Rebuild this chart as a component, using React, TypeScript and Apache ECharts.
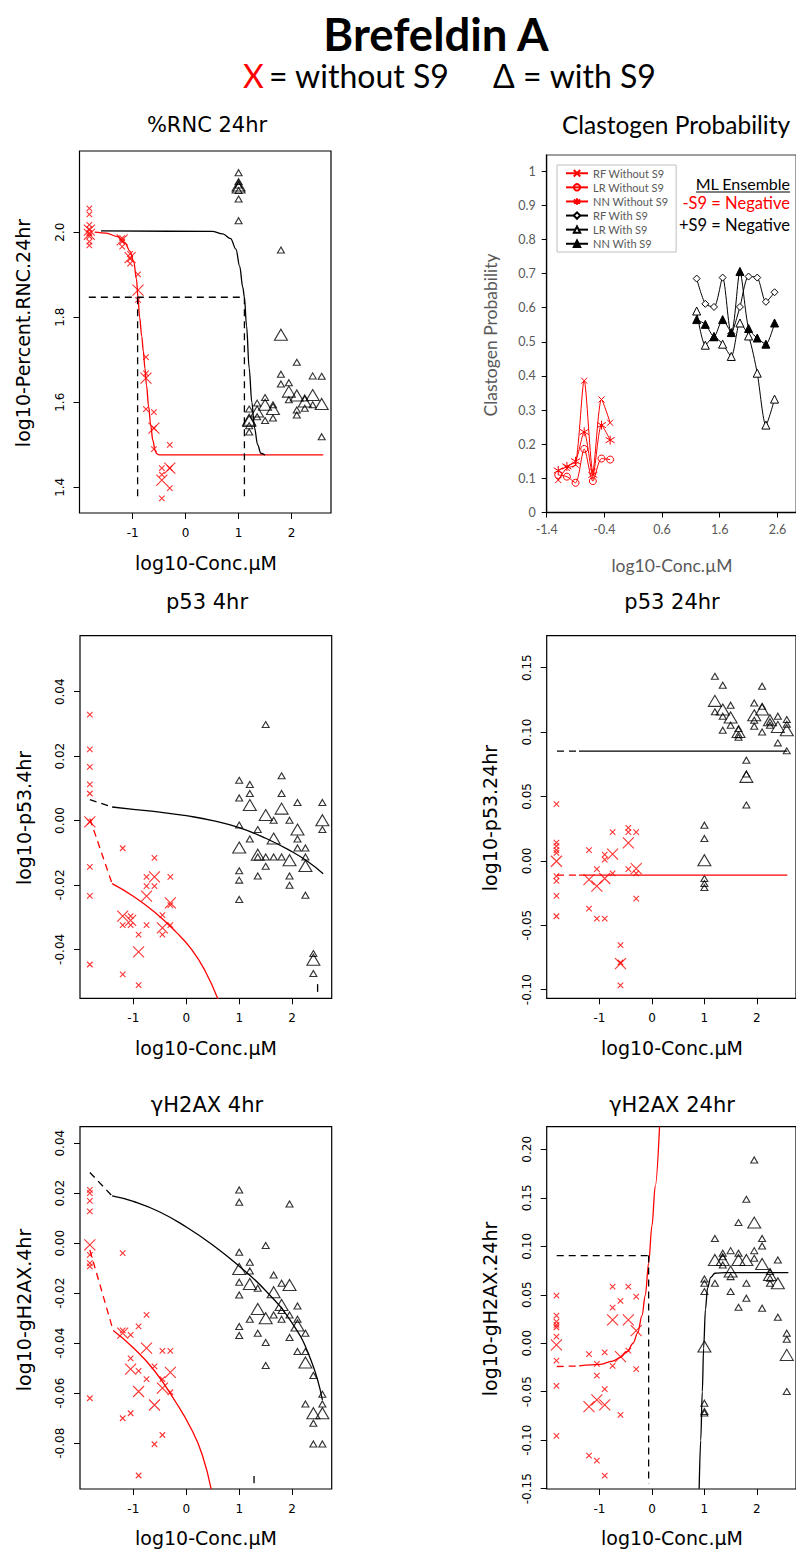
import React, { useEffect, useRef } from 'react';
import * as echarts from 'echarts';

// ---------- concentrations (log10 µM) ----------
const concRed = [-1.82, -1.2, -1.05, -0.9, -0.75, -0.6, -0.45, -0.3];
const concBlack = [1.0, 1.2, 1.35, 1.5, 1.65, 1.8, 1.95, 2.1, 2.25, 2.4, 2.57];
const xTicksR = [-1, 0, 1, 2];

// ---------- %RNC 24hr ----------
const rncRedRep = [[2.056, 2.042, 2.017, 2.007, 1.998, 1.99, 1.978, 1.969], [1.986, 1.978, 1.966], [1.949, 1.937, 1.926], [1.901, 1.841], [1.706, 1.668, 1.584], [1.577, 1.539, 1.49], [1.445, 1.43, 1.374], [1.5, 1.445, 1.398]];
const rncRedMean = [[2.005, 1.995], [1.982], [1.94], [1.864], [1.657], [1.539], [1.417], [1.445]];
const rncBlackRep = [[2.14, 2.119, 2.111, 2.098, 2.078, 2.027], [1.584, 1.53, 1.545], [1.598, 1.566], [1.611, 1.557], [1.594, 1.563], [1.958, 1.666, 1.643], [1.646, 1.606], [1.694, 1.582, 1.57], [1.61, 1.586], [1.662, 1.594], [1.661, 1.519]];
const rncBlackMean = [[2.105, 2.11], [1.559, 1.556], [1.578], [1.594], [1.584], [1.759], [1.625], [1.616], [1.602], [1.617], [1.596]];
const rncRedCurveX = [-1.72, -1.5, -1.3, -1.15, -1.05, -0.98, -0.93, -0.9, -0.87, -0.83, -0.8, -0.77, -0.74, -0.7, -0.66, -0.62, -0.58, -0.55, -0.5, 2.6];
const rncRedCurveY = [2.0, 1.998, 1.99, 1.975, 1.955, 1.93, 1.89, 1.845, 1.8, 1.755, 1.72, 1.68, 1.64, 1.59, 1.545, 1.51, 1.488, 1.479, 1.476, 1.476];
const rncBlackCurveX = [-1.6, 0.5, 0.7, 0.85, 0.95, 1.02, 1.08, 1.11, 1.15, 1.2, 1.25, 1.3, 1.36, 1.42, 1.5];
const rncBlackCurveY = [2.003, 2.002, 1.996, 1.985, 1.96, 1.92, 1.87, 1.847, 1.78, 1.68, 1.6, 1.54, 1.5, 1.48, 1.476];
const rncRefX = [-1.83, -0.908, 1.11];
const rncRefY = [1.847, 1.37];
const rncYTicks = [1.4, 1.6, 1.8, 2.0];

// ---------- Clastogen probability ----------
const clastRedX = [-1.2, -1.05, -0.9, -0.75, -0.6, -0.45, -0.3];
const rfWithout = [0.095, 0.13, 0.14, 0.386, 0.12, 0.331, 0.263];
const lrWithout = [0.11, 0.105, 0.087, 0.186, 0.092, 0.158, 0.155];
const nnWithout = [0.123, 0.135, 0.15, 0.236, 0.11, 0.256, 0.212];
const clastBlackX = [1.2, 1.35, 1.5, 1.65, 1.8, 1.95, 2.1, 2.25, 2.4, 2.55];
const rfWith = [0.685, 0.611, 0.602, 0.688, 0.524, 0.602, 0.691, 0.688, 0.617, 0.645];
const lrWith = [0.59, 0.49, 0.515, 0.493, 0.457, 0.555, 0.517, 0.408, 0.256, 0.332];
const nnWith = [0.565, 0.551, 0.515, 0.565, 0.527, 0.706, 0.539, 0.511, 0.493, 0.555];
const clastXTicks = [-1.4, -0.4, 0.6, 1.6, 2.6];
const clastYTicks = [0, 0.1, 0.2, 0.3, 0.4, 0.5, 0.6, 0.7, 0.8, 0.9, 1];
const legendNames = ['RF Without S9', 'LR Without S9', 'NN Without S9', 'RF With S9', 'LR With S9', 'NN With S9'];

// ---------- p53 4hr ----------
const p4RedRep = [[0.0329, 0.0221, 0.0167, 0.0112, 0.0084, -0.0004, -0.0144, -0.0234, -0.0447], [-0.0086, -0.0325, -0.0478], [-0.0297, -0.0325], [-0.0354, -0.0511], [-0.0175, -0.0204, -0.0325], [-0.0116, -0.0204], [-0.0294, -0.0354], [-0.0175, -0.0325, -0.0263]];
const p4RedMean = [[-0.0004], [-0.0297], [-0.031], [-0.0408], [-0.0235], [-0.0175], [-0.0333], [-0.0256]];
const p4BlackRep = [[0.0125, 0.007, -0.0014, -0.0156, -0.0185, -0.0245], [0.0112, 0.0084, -0.0057], [-0.0028, -0.0113, -0.0172], [0.0298, -0.0113, -0.0142], [0.0001, -0.0113], [0.0139, 0.0084, -0.0113], [0.0001, -0.0172, -0.0201], [0.0056, -0.0057, -0.0085], [-0.0085, -0.0113, -0.0232], [-0.0413, -0.0475], [0.0056, -0.0028]];
const p4BlackMean = [[-0.0084], [0.0048], [-0.0106], [0.0017], [-0.0056], [0.0037], [-0.0123], [-0.0028], [-0.0141], [-0.0432], [0.0001]];
const p4BlackDashX = [-1.82, -1.4];
const p4BlackDashY = [0.0065, 0.0042];
const p4BlackCurveX = [-1.4, -1.0, -0.5, 0, 0.5, 1.0, 1.5, 2.0, 2.3, 2.585];
const p4BlackCurveY = [0.0042, 0.0035, 0.0026, 0.0015, 0.0, -0.0022, -0.0055, -0.0097, -0.0128, -0.0165];
const p4RedDashX = [-1.82, -1.4];
const p4RedDashY = [0.0006, -0.0196];
const p4RedCurveX = [-1.4, -1.0, -0.6, -0.2, 0.1, 0.35, 0.6];
const p4RedCurveY = [-0.0196, -0.0235, -0.0284, -0.0345, -0.04, -0.0465, -0.0555];
const p4StubX = [2.48, 2.48];
const p4StubY = [-0.0508, -0.0532];
const p4YTicks = [-0.04, -0.02, 0, 0.02, 0.04];

// ---------- p53 24hr ----------
const p24RedRep = [[0.044, 0.0142, 0.0114, 0.0083, 0.0062, -0.0119, -0.0155, -0.0272, -0.043], [0.0083, -0.037], [-0.0065, -0.0448], [0.0049, 0.001, -0.0448], [0.0223, -0.0098], [-0.0655, -0.0966, -0.0789], [0.0256, 0.0223, -0.0065], [0.0223, -0.0098, -0.0293]];
const p24RedMean = [[-0.0003], [-0.0145], [-0.0197], [-0.0137], [0.0052], [-0.0798], [0.014], [-0.006]];
const p24BlackRep = [[0.0277, 0.0174, -0.0137, -0.0176, -0.0207], [0.1433, 0.1157], [0.1364, 0.1123, 0.1014], [0.1208, 0.1053], [0.1027, 0.098, 0.096], [0.0781, 0.0675, 0.0433], [0.1226, 0.1092, 0.1045], [0.1356, 0.12, 0.1001], [0.1053, 0.108], [0.1123, 0.0916], [0.1097, 0.106, 0.0854]];
const p24BlackMean = [[0.0005], [0.1242], [0.1175], [0.1113], [0.1], [0.0652], [0.113], [0.1175], [0.1092], [0.104], [0.1014]];
const p24LineX = [-1.81, -1.39, 2.58];
const p24RedLevel = -0.0111;
const p24BlackLevel = 0.0852;
const p24YTicks = [-0.1, -0.05, 0, 0.05, 0.1, 0.15];

// ---------- gH2AX 4hr ----------
const g4RedRep = [[0.0213, 0.02, 0.0169, 0.0127, -0.0047, -0.008, -0.0093, -0.062], [-0.004, -0.0349, -0.07], [-0.0367, -0.0461, -0.068], [-0.0333, -0.0511, -0.0929], [-0.0287, -0.0544], [-0.0493, -0.0804], [-0.0431, -0.0544, -0.0767], [-0.0431, -0.0596]];
const g4RedMean = [[-0.0007], [-0.036], [-0.0504], [-0.0593], [-0.042], [-0.0647], [-0.058], [-0.0517]];
const g4BlackRep = [[0.0213, 0.0164, -0.0036, -0.0156, -0.0207, -0.0333, -0.0369], [-0.0076, -0.0111, -0.0304], [-0.018, -0.036], [-0.0009, -0.0397, -0.0489], [-0.0127, -0.0287], [-0.016, -0.0269, -0.0304], [0.0157, -0.0287, -0.0377], [-0.0251, -0.0304, -0.0433], [-0.036, -0.0433, -0.0643], [-0.0529, -0.072, -0.0803], [-0.0604, -0.0643, -0.0803]];
const g4BlackMean = [[-0.0103], [-0.0163], [-0.0263], [-0.03], [-0.0196], [-0.0247], [-0.0167], [-0.0329], [-0.0477], [-0.068], [-0.068]];
const g4RedDashX = [-1.82, -1.38];
const g4RedDashY = [-0.0027, -0.0349];
const g4RedCurveX = [-1.38, -1.0, -0.6, -0.2, 0.1, 0.3, 0.47];
const g4RedCurveY = [-0.0349, -0.0418, -0.051, -0.0635, -0.0745, -0.0845, -0.0983];
const g4BlackDashX = [-1.82, -1.4];
const g4BlackDashY = [0.0283, 0.0189];
const g4BlackCurveX = [-1.4, -1.0, -0.5, 0, 0.5, 1.0, 1.5, 2.0, 2.35, 2.57];
const g4BlackCurveY = [0.0189, 0.0167, 0.0125, 0.0065, -0.0007, -0.0092, -0.019, -0.032, -0.0465, -0.0627];
const g4StubX = [1.28, 1.28];
const g4StubY = [-0.0931, -0.096];
const g4YTicks = [-0.08, -0.06, -0.04, -0.02, 0, 0.02, 0.04];

// ---------- gH2AX 24hr ----------
const g24RedRep = [[0.0491, 0.0285, 0.0223, 0.0189, 0.0165, 0.0069, -0.0179, -0.044, -0.0955], [-0.0113, -0.1158], [-0.0213, -0.0333, -0.121], [-0.0093, -0.0474, -0.1364], [0.0584, 0.0368, -0.0234], [0.0436, -0.0739], [0.0584, -0.0076], [0.0481, -0.0268]];
const g24RedMean = [[-0.0017], [-0.0653], [-0.0584], [-0.0636], [0.0241], [-0.0137], [0.0241], [0.0131]];
const g24BlackRep = [[0.0663, 0.0618, 0.0533, -0.0618, -0.0704, -0.072], [0.108, 0.0618], [0.0928, 0.0893, 0.0807], [0.0955, 0.0687, 0.0533], [0.1244, 0.0928, 0.0371], [0.1484, 0.0618, 0.0464], [0.189, 0.0955, 0.0876], [0.108, 0.1003, 0.0361], [0.0739, 0.067, 0.0618], [0.0859, 0.0268], [0.0103, 0.0041, -0.0498]];
const g24BlackMean = [[-0.0034], [0.0859], [0.0859], [0.0739], [0.0859], [0.0859], [0.1244], [0.0818], [0.0704], [0.0618], [-0.012]];
const g24RedDashX = [-1.815, -1.386];
const g24RedDashY = [-0.024, -0.0234];
const g24RedCurveX = [-1.386, -1.0, -0.75, -0.6, -0.47, -0.36, -0.27, -0.19, -0.126, -0.063, 0, 0.063, 0.145];
const g24RedCurveY = [-0.0234, -0.0218, -0.0185, -0.0145, -0.0085, 0.0, 0.011, 0.0285, 0.0495, 0.0825, 0.121, 0.162, 0.2233];
const g24BlackCurveX = [0.9, 0.93, 0.96, 0.985, 1.02, 1.06, 1.12, 1.2, 1.4, 2.6];
const g24BlackCurveY = [-0.15, -0.1, -0.05, -0.005, 0.035, 0.057, 0.068, 0.0722, 0.0728, 0.0728];
const g24RefX = [-1.815, -0.063];
const g24RefY = [0.0904, -0.145];
const g24YTicks = [-0.15, -0.1, -0.05, 0, 0.05, 0.1, 0.15, 0.2];

// ---------- helpers ----------
const RFONT = 'DejaVu Sans';
const XFONT = 'Lato';
const RED = '#ff0000';
const SYM_X = 'path://M0,0L10,10M0,10L10,0';
const SYM_AST = 'path://M5,0L5,10M0,2L10,8M0,8L10,2';
const SYM_TRI = 'path://M5,0L10,8.66L0,8.66Z';

const groupPts = (xs: number[], groups: number[][]) => groups.flatMap((g, i) => g.map((v) => [xs[i], v]));
const pairs = (xs: number[], ys: number[]) => xs.map((x, i) => [x, ys[i]]);

function scat(gi: number, data: number[][], sym: string, size: any, color: string, bw = 1.1) {
  return {
    type: 'scatter', xAxisIndex: gi, yAxisIndex: gi, data, symbol: sym, symbolSize: size,
    itemStyle: { color: 'rgba(0,0,0,0)', borderColor: color, borderWidth: bw }, silent: true, z: 3,
  };
}
// kind: 'steep' = sigmoid (monotone smoothing), 'soft' = gentle curve, 'straight' = polyline
function curve(gi: number, data: number[][], color: string, dashed = false, kind = 'straight') {
  const smooth = kind === 'steep' ? 0.35 : kind === 'soft' ? 0.5 : false;
  const s: any = {
    type: 'line', xAxisIndex: gi, yAxisIndex: gi, data, symbol: 'none', showSymbol: false,
    smooth,
    lineStyle: { color, width: 1.3, type: dashed ? [7, 5] : 'solid' }, silent: true, z: 4,
  };
  if (kind === 'steep') s.smoothMonotone = 'x';
  return s;
}
function rPanel(gi: number, xsR: number[], redRep: number[][], redMean: number[][], blackRep: number[][], blackMean: number[][]) {
  return [
    scat(gi, groupPts(xsR, redRep), SYM_X, 5.5, RED),
    scat(gi, groupPts(xsR, redMean), SYM_X, 11, RED),
    scat(gi, groupPts(concBlack, blackRep), SYM_TRI, [7, 6], '#000'),
    scat(gi, groupPts(concBlack, blackMean), SYM_TRI, [13, 11], '#000'),
  ];
}
function rX(gi: number) {
  return {
    gridIndex: gi, type: 'value', min: -2.006, max: 2.746,
    axisLine: { show: false, onZero: false }, splitLine: { show: false },
    axisTick: { show: true, inside: false, length: 6, customValues: xTicksR, lineStyle: { color: '#000', width: 1 } },
    axisLabel: { customValues: xTicksR, fontFamily: RFONT, fontSize: 12, color: '#000', margin: 14, formatter: (v: number) => String(v) },
  };
}
function rY(gi: number, min: number, max: number, ticks: number[], dec: number) {
  return {
    gridIndex: gi, type: 'value', min, max,
    axisLine: { show: false, onZero: false }, splitLine: { show: false },
    axisTick: { show: true, inside: false, length: 6, customValues: ticks, lineStyle: { color: '#000', width: 1 } },
    axisLabel: { customValues: ticks, rotate: 90, fontFamily: RFONT, fontSize: 12, color: '#000', margin: 14, formatter: (v: number) => v.toFixed(dec) },
  };
}
function txt(x: number, y: number, text: string, size: number, opts: any = {}) {
  return {
    type: 'text', x, y, rotation: opts.rot || 0, silent: true, z: 10,
    style: {
      text, fill: opts.color || '#000', fontSize: size, fontFamily: opts.font || RFONT, fontWeight: opts.bold ? 'bold' : 'normal',
      align: opts.align || 'center', verticalAlign: 'middle', textAlign: opts.align || 'center', textVerticalAlign: 'middle',
    },
  };
}

const gridBox = { show: true, borderColor: '#000', borderWidth: 1.2, backgroundColor: 'rgba(0,0,0,0)' };

function buildOption() {
  const grids = [
    { left: 79.5, top: 151, width: 251.5, height: 362, ...gridBox },
    { left: 546.7, top: 155, width: 259.3, height: 357.5, show: true, borderColor: '#404040', borderWidth: 1, backgroundColor: 'rgba(0,0,0,0)' },
    { left: 80, top: 635.7, width: 251.7, height: 362.6, ...gridBox },
    { left: 546.7, top: 635.7, width: 251.9, height: 362.6, ...gridBox },
    { left: 80, top: 1126.7, width: 251.7, height: 362.3, ...gridBox },
    { left: 546.7, top: 1126.7, width: 251.9, height: 362.3, ...gridBox },
  ];
  const xAxis = [
    rX(0),
    {
      gridIndex: 1, type: 'value', min: -1.4, max: 2.922,
      axisLine: { show: true, onZero: false, lineStyle: { color: '#000', width: 1.3 } }, splitLine: { show: false },
      axisTick: { show: true, inside: false, length: 5, customValues: clastXTicks, lineStyle: { color: '#000' } },
      axisLabel: { customValues: clastXTicks, fontFamily: XFONT, fontSize: 12.5, color: '#595959', margin: 10, formatter: (v: number) => v.toFixed(1) },
    },
    rX(2), rX(3), rX(4), rX(5),
  ];
  const yAxis = [
    rY(0, 1.3395, 2.191, rncYTicks, 1),
    {
      gridIndex: 1, type: 'value', min: 0, max: 1.047,
      axisLine: { show: true, onZero: false, lineStyle: { color: '#000', width: 1.3 } }, splitLine: { show: false },
      axisTick: { show: true, inside: false, length: 5, customValues: clastYTicks, lineStyle: { color: '#000' } },
      axisLabel: { customValues: clastYTicks, fontFamily: XFONT, fontSize: 12.5, color: '#595959', margin: 11, formatter: (v: number) => String(Math.round(v * 10) / 10) },
    },
    rY(2, -0.0552, 0.0574, p4YTicks, 2),
    rY(3, -0.1067, 0.1748, p24YTicks, 2),
    rY(4, -0.0983, 0.0466, g4YTicks, 2),
    rY(5, -0.1503, 0.2233, g24YTicks, 2),
  ];

  const clast = (name: string, xs: number[], ys: number[], color: string, symbol: string, size: number, fill: string) => ({
    name, type: 'line', xAxisIndex: 1, yAxisIndex: 1, data: pairs(xs, ys), symbol, symbolSize: size, showSymbol: true,
    smooth: 0.25, lineStyle: { color, width: 1 },
    itemStyle: { color: fill, borderColor: color, borderWidth: 1 }, silent: true, z: 3,
  });

  const series: any[] = [
    // %RNC
    ...rPanel(0, concRed, rncRedRep, rncRedMean, rncBlackRep, rncBlackMean),
    curve(0, pairs(rncRedCurveX, rncRedCurveY), RED, false, 'steep'),
    curve(0, pairs(rncBlackCurveX, rncBlackCurveY), '#000', false, 'steep'),
    curve(0, [[rncRefX[0], rncRefY[0]], [rncRefX[2], rncRefY[0]]], '#000', true),
    curve(0, [[rncRefX[1], rncRefY[0]], [rncRefX[1], rncRefY[1]]], '#000', true),
    curve(0, [[rncRefX[2], rncRefY[0]], [rncRefX[2], rncRefY[1]]], '#000', true),
    // Clastogen
    clast(legendNames[0], clastRedX, rfWithout, RED, SYM_X, 6, 'rgba(0,0,0,0)'),
    clast(legendNames[1], clastRedX, lrWithout, RED, 'circle', 7, 'rgba(255,255,255,0)'),
    clast(legendNames[2], clastRedX, nnWithout, RED, SYM_AST, 9, 'rgba(0,0,0,0)'),
    clast(legendNames[3], clastBlackX, rfWith, '#000', 'diamond', 7, '#fff'),
    clast(legendNames[4], clastBlackX, lrWith, '#000', 'triangle', 8, '#fff'),
    clast(legendNames[5], clastBlackX, nnWith, '#000', 'triangle', 8, '#000'),
    // p53 4hr
    ...rPanel(2, concRed, p4RedRep, p4RedMean, p4BlackRep, p4BlackMean),
    curve(2, pairs(p4BlackDashX, p4BlackDashY), '#000', true),
    curve(2, pairs(p4BlackCurveX, p4BlackCurveY), '#000', false, 'soft'),
    curve(2, pairs(p4RedDashX, p4RedDashY), RED, true),
    curve(2, pairs(p4RedCurveX, p4RedCurveY), RED, false, 'soft'),
    curve(2, pairs(p4StubX, p4StubY), '#000'),
    // p53 24hr
    ...rPanel(3, concRed, p24RedRep, p24RedMean, p24BlackRep, p24BlackMean),
    curve(3, [[p24LineX[0], p24RedLevel], [p24LineX[1], p24RedLevel]], RED, true),
    curve(3, [[p24LineX[1], p24RedLevel], [p24LineX[2], p24RedLevel]], RED),
    curve(3, [[p24LineX[0], p24BlackLevel], [p24LineX[1], p24BlackLevel]], '#000', true),
    curve(3, [[p24LineX[1], p24BlackLevel], [p24LineX[2], p24BlackLevel]], '#000'),
    // gH2AX 4hr
    ...rPanel(4, concRed, g4RedRep, g4RedMean, g4BlackRep, g4BlackMean),
    curve(4, pairs(g4RedDashX, g4RedDashY), RED, true),
    curve(4, pairs(g4RedCurveX, g4RedCurveY), RED, false, 'soft'),
    curve(4, pairs(g4BlackDashX, g4BlackDashY), '#000', true),
    curve(4, pairs(g4BlackCurveX, g4BlackCurveY), '#000', false, 'soft'),
    curve(4, pairs(g4StubX, g4StubY), '#000'),
    // gH2AX 24hr
    ...rPanel(5, concRed, g24RedRep, g24RedMean, g24BlackRep, g24BlackMean),
    curve(5, pairs(g24RedDashX, g24RedDashY), RED, true),
    curve(5, pairs(g24RedCurveX, g24RedCurveY), RED, false, 'steep'),
    curve(5, pairs(g24BlackCurveX, g24BlackCurveY), '#000', false, 'steep'),
    curve(5, [[g24RefX[0], g24RefY[0]], [g24RefX[1], g24RefY[0]]], '#000', true),
    curve(5, [[g24RefX[1], g24RefY[0]], [g24RefX[1], g24RefY[1]]], '#000', true),
  ];

  const graphic: any[] = [
    txt(436, 33, 'Brefeldin A', 45.5, { font: XFONT, bold: true }),
    txt(243, 75, 'X', 32, { font: XFONT, color: RED, align: 'left' }),
    txt(269, 75, '= without S9', 32, { font: XFONT, align: 'left' }),
    txt(493, 75, 'Δ = with S9', 32, { font: XFONT, align: 'left' }),
    // panel titles
    txt(207, 125, '%RNC 24hr', 21),
    txt(676, 124, 'Clastogen Probability', 24.5, { font: XFONT }),
    txt(207, 602, 'p53 4hr', 21),
    txt(672, 602, 'p53 24hr', 21),
    txt(207, 1105, 'γH2AX 4hr', 21),
    txt(672, 1105, 'γH2AX 24hr', 21),
    // x titles
    txt(206, 563, 'log10-Conc.µM', 19),
    txt(672, 565, 'log10-Conc.µM', 17.5, { font: XFONT, color: '#595959' }),
    txt(206, 1048, 'log10-Conc.µM', 19),
    txt(672, 1048, 'log10-Conc.µM', 19),
    txt(206, 1538, 'log10-Conc.µM', 19),
    txt(672, 1538, 'log10-Conc.µM', 19),
    // y titles
    txt(23, 333, 'log10-Percent.RNC.24hr', 19, { rot: Math.PI / 2 }),
    txt(490, 335, 'Clastogen Probability', 17.5, { rot: Math.PI / 2, font: XFONT, color: '#595959' }),
    txt(24, 818, 'log10-p53.4hr', 19, { rot: Math.PI / 2 }),
    txt(490, 818, 'log10-p53.24hr', 19, { rot: Math.PI / 2 }),
    txt(24, 1310, 'log10-gH2AX.4hr', 19, { rot: Math.PI / 2 }),
    txt(490, 1309, 'log10-gH2AX.24hr', 19, { rot: Math.PI / 2 }),
    // ML ensemble
    txt(790, 183, 'ML Ensemble', 16, { font: XFONT, align: 'right' }),
    { type: 'line', silent: true, z: 10, shape: { x1: 696, y1: 192, x2: 790, y2: 192 }, style: { stroke: '#000', lineWidth: 1 } },
    txt(790, 203, '-S9 = Negative', 16.5, { font: XFONT, align: 'right', color: RED }),
    txt(790, 225, '+S9 = Negative', 16.5, { font: XFONT, align: 'right' }),
  ];

  return {
    animation: false,
    backgroundColor: '#fff',
    grid: grids,
    xAxis,
    yAxis,
    series,
    legend: {
      show: true, orient: 'vertical', left: 557, top: 165, selectedMode: false,
      data: legendNames, itemWidth: 22, itemHeight: 8, itemGap: 1.6,
      borderColor: '#bfbfbf', borderWidth: 1, padding: [2, 8, 2, 8],
      textStyle: { fontFamily: XFONT, fontSize: 11, color: '#595959', lineHeight: 12.5 },
    },
    graphic,
  };
}

export default function App() {
  const ref = useRef<HTMLDivElement>(null);
  useEffect(() => {
    if (!ref.current) return;
    const chart = echarts.init(ref.current, null, { renderer: 'svg' });
    chart.setOption(buildOption() as any);
    return () => chart.dispose();
  }, []);
  return <div ref={ref} style={{ position: 'absolute', left: 0, top: 0, width: 796, height: 1549, background: '#fff' }} />;
}
